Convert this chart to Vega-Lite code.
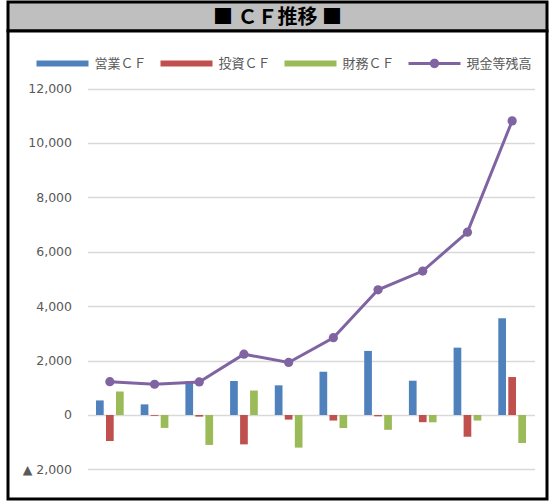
{
  "$schema": "https://vega.github.io/schema/vega-lite/v6.json",
  "padding": {"left": 6, "top": 0, "right": 0, "bottom": 0},
  "background": "white",
  "spacing": 0,
  "bounds": "flush",
  "datasets": {
    "cf": [
      {"期": 1, "区分": "営業ＣＦ", "金額": 535},
      {"期": 1, "区分": "投資ＣＦ", "金額": -960},
      {"期": 1, "区分": "財務ＣＦ", "金額": 860},
      {"期": 2, "区分": "営業ＣＦ", "金額": 390},
      {"期": 2, "区分": "投資ＣＦ", "金額": -30},
      {"期": 2, "区分": "財務ＣＦ", "金額": -475},
      {"期": 3, "区分": "営業ＣＦ", "金額": 1240},
      {"期": 3, "区分": "投資ＣＦ", "金額": -60},
      {"期": 3, "区分": "財務ＣＦ", "金額": -1100},
      {"期": 4, "区分": "営業ＣＦ", "金額": 1250},
      {"期": 4, "区分": "投資ＣＦ", "金額": -1080},
      {"期": 4, "区分": "財務ＣＦ", "金額": 900},
      {"期": 5, "区分": "営業ＣＦ", "金額": 1090},
      {"期": 5, "区分": "投資ＣＦ", "金額": -170},
      {"期": 5, "区分": "財務ＣＦ", "金額": -1200},
      {"期": 6, "区分": "営業ＣＦ", "金額": 1590},
      {"期": 6, "区分": "投資ＣＦ", "金額": -205},
      {"期": 6, "区分": "財務ＣＦ", "金額": -480},
      {"期": 7, "区分": "営業ＣＦ", "金額": 2355},
      {"期": 7, "区分": "投資ＣＦ", "金額": -50},
      {"期": 7, "区分": "財務ＣＦ", "金額": -545},
      {"期": 8, "区分": "営業ＣＦ", "金額": 1260},
      {"期": 8, "区分": "投資ＣＦ", "金額": -265},
      {"期": 8, "区分": "財務ＣＦ", "金額": -270},
      {"期": 9, "区分": "営業ＣＦ", "金額": 2475},
      {"期": 9, "区分": "投資ＣＦ", "金額": -800},
      {"期": 9, "区分": "財務ＣＦ", "金額": -205},
      {"期": 10, "区分": "営業ＣＦ", "金額": 3555},
      {"期": 10, "区分": "投資ＣＦ", "金額": 1395},
      {"期": 10, "区分": "財務ＣＦ", "金額": -1030}
    ],
    "cash": [
      {"期": 1, "金額": 1225},
      {"期": 2, "金額": 1130},
      {"期": 3, "金額": 1215},
      {"期": 4, "金額": 2235},
      {"期": 5, "金額": 1930},
      {"期": 6, "金額": 2840},
      {"期": 7, "金額": 4600},
      {"期": 8, "金額": 5290},
      {"期": 9, "金額": 6720},
      {"期": 10, "金額": 10810}
    ]
  },
  "vconcat": [
    {
      "width": 539,
      "height": 29,
      "view": {"fill": "#bfbfbf", "stroke": "black", "strokeWidth": 3},
      "data": {"values": [{"タイトル": "■ ＣＦ推移 ■"}]},
      "mark": {"type": "text", "font": "Noto Sans CJK JP", "fontWeight": "bold", "fontSize": 20, "color": "black", "baseline": "middle", "align": "center", "dy": 1},
      "encoding": {"text": {"field": "タイトル", "type": "nominal"}}
    },
    {
      "width": 539,
      "height": 468,
      "view": {"fill": "white", "stroke": "black", "strokeWidth": 3},
      "layer": [
        {
          "data": {"name": "cf"},
          "mark": {"type": "bar"},
          "encoding": {
            "x": {"field": "期", "type": "ordinal", "axis": null,
                  "scale": {"range": [79.5, 526.5], "paddingInner": 0.38, "paddingOuter": 0.19}},
            "xOffset": {"field": "区分", "type": "nominal", "sort": ["営業ＣＦ", "投資ＣＦ", "財務ＣＦ"],
                        "scale": {"paddingInner": 0.23, "paddingOuter": 0}},
            "y": {"field": "金額", "type": "quantitative",
                  "scale": {"domain": [-2000, 12000], "range": [438.4, 57.5], "nice": false},
                  "axis": {"values": [-2000, 0, 2000, 4000, 6000, 8000, 10000, 12000],
                           "labelExpr": "datum.value < 0 ? '▲ ' + format(-datum.value, ',') : format(datum.value, ',')",
                           "offset": -79.5, "domain": false, "ticks": false, "tickSize": 0,
                           "labelPadding": 16, "title": null, "grid": true,
                           "gridColor": "#d9d9d9", "gridWidth": 1.3,
                           "labelFont": "DejaVu Sans", "labelFontSize": 12.5, "labelColor": "#595959"}},
            "color": {"field": "区分", "type": "nominal",
                      "scale": {"domain": ["営業ＣＦ", "投資ＣＦ", "財務ＣＦ", "現金等残高"],
                                "range": ["#4f81bd", "#c0504d", "#9bbb59", "#8064a2"]},
                      "legend": {"orient": "none", "legendX": 28.5, "legendY": 35.5,
                                 "direction": "horizontal", "columns": 4, "gridAlign": "all",
                                 "columnPadding": -2, "symbolSize": 2704,
                                 "symbolType": "M-1,-0.12H1V0.12H-1Z",
                                 "labelFont": "Noto Sans CJK JP", "labelFontSize": 13,
                                 "labelColor": "#595959", "labelOffset": 6, "title": null, "padding": 0,
                                 "encode": {"symbols": {"update": {
                                   "shape": {"signal": "datum.label === '現金等残高' ? 'M-1,-0.058H1V0.058H-1Z M-0.18,0A0.18,0.18,0,1,1,0.18,0A0.18,0.18,0,1,1,-0.18,0Z' : 'M-1,-0.12H1V0.12H-1Z'"},
                                   "fill": {"signal": "scale('color', datum.value)"},
                                   "strokeWidth": {"value": 0},
                                   "opacity": {"value": 1}
                                 }}}}}
          }
        },
        {
          "data": {"name": "cash"},
          "mark": {"type": "line", "strokeWidth": 3, "point": {"filled": true, "size": 85}},
          "encoding": {
            "x": {"field": "期", "type": "ordinal"},
            "y": {"field": "金額", "type": "quantitative"},
            "color": {"datum": "現金等残高"}
          }
        }
      ]
    }
  ],
  "config": {"font": "Noto Sans CJK JP"}
}
